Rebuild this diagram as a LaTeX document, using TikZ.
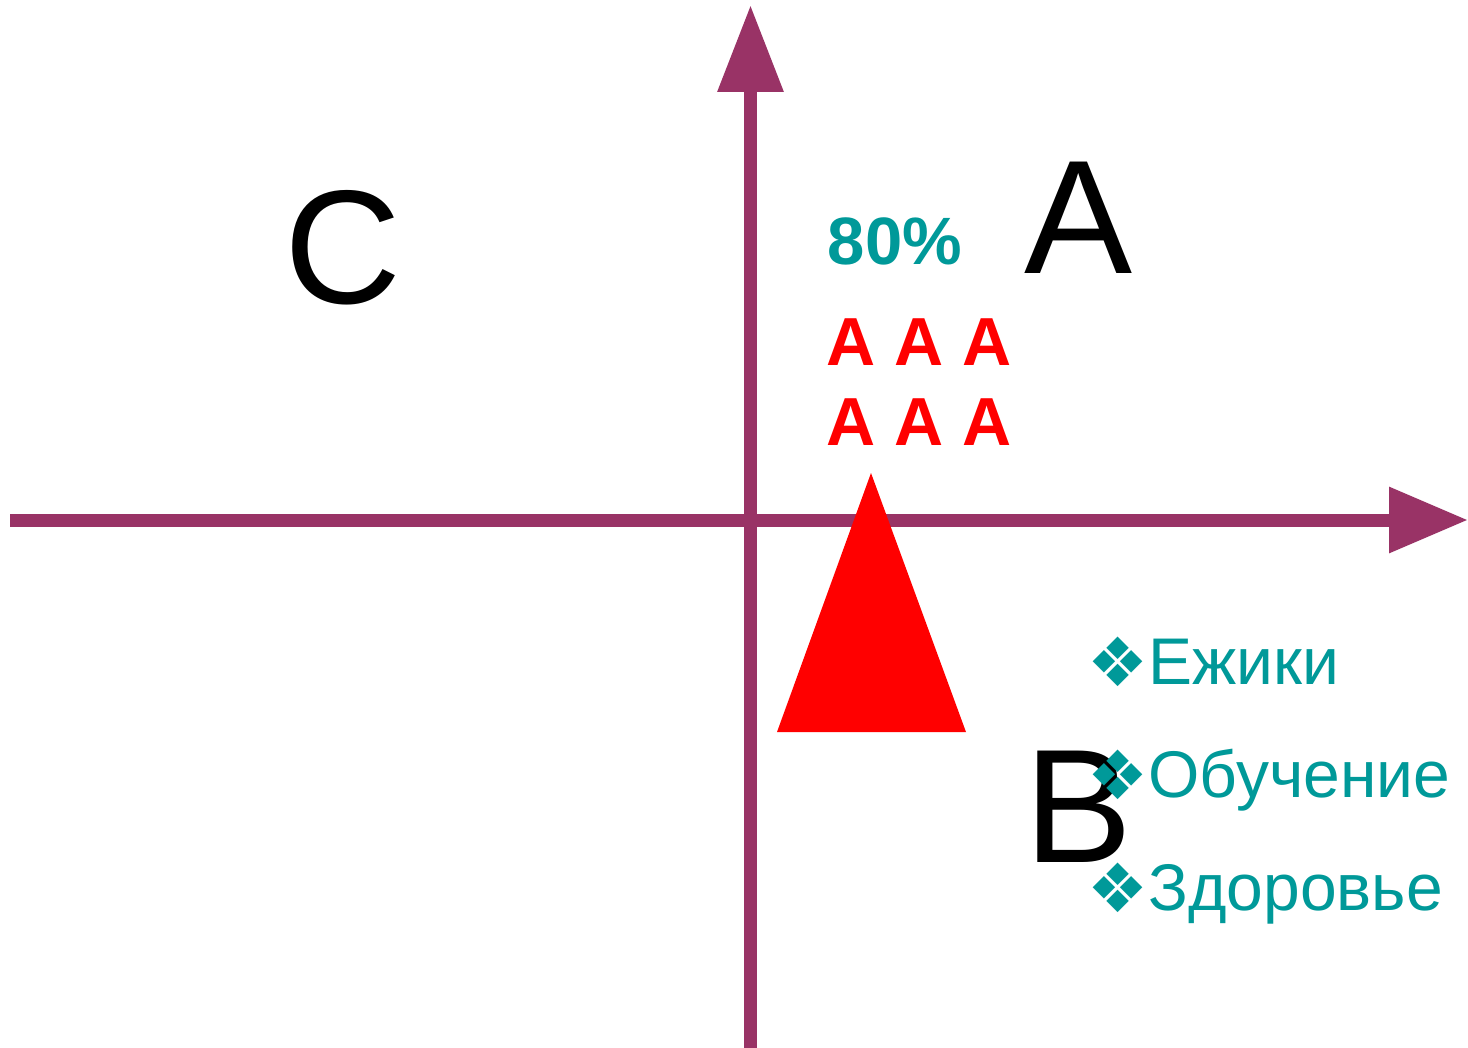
\documentclass[tikz,border=0pt]{standalone}
\usepackage{fontspec}
\setmainfont{Liberation Sans}
\newfontfamily\bulletfont{DejaVu Sans}
\usetikzlibrary{arrows.meta}
\definecolor{axiscol}{RGB}{153,51,102}
\definecolor{tealc}{RGB}{0,153,153}
\definecolor{redc}{RGB}{255,0,0}
\tikzset{
  axis/.style={draw=axiscol, line width=6.5pt},
  bigletter/.style={inner sep=0pt, anchor=base, font=\fontsize{81}{90}\selectfont, text=black},
  redA/.style={inner sep=0pt, anchor=base, font=\bfseries\fontsize{34}{40}\selectfont, text=redc},
  listitem/.style={inner sep=0pt, anchor=base west, font=\fontsize{33}{40}\selectfont, text=tealc},
  bul/.style={inner sep=0pt, anchor=center, font=\bulletfont\fontsize{34}{40}\selectfont, text=tealc},
}
\begin{document}
\begin{tikzpicture}[x=0.5pt,y=-0.5pt]
\useasboundingbox (0,0) rectangle (1468,1048);
\fill[white] (0,0) rectangle (1468,1048);
% axes
\coordinate (hl) at (10,520);
\coordinate (hr) at (1468,520);
\coordinate (vb) at (750.5,1048);
\coordinate (vt) at (750.5,5);
\draw[axis, -{Triangle[length=39.5pt,width=31.5pt]}] (hl) -- (hr);
\draw[axis, -{Triangle[length=43.5pt,width=31.5pt]}] (vb) -- (vt);
% red triangle
\fill[redc] (871,473) -- (777,732) -- (966,732) -- cycle;
% big letters
\node[bigletter] (C) at (343,304) {C};
\node[bigletter] (A) at (1079,274) {A};
\node[bigletter] (B) at (1079,862) {B};
% 80%
\node[inner sep=0pt, anchor=base, font=\bfseries\fontsize{33.5}{40}\selectfont, text=tealc] (pct) at (895,265) {80\%};
% red A rows
\node[redA] (r1) at (919.5,365) {A A A};
\node[redA] (r2) at (919.5,445) {A A A};
% list
\node[bul] (b1) at (1118,662) {❖};
\node[listitem] (l1) at (1148,684) {Ежики};
\node[bul] (b2) at (1118,775) {❖};
\node[listitem] (l2) at (1148,797) {Обучение};
\node[bul] (b3) at (1118,888) {❖};
\node[listitem] (l3) at (1148,910) {Здоровье};
\end{tikzpicture}
\end{document}
